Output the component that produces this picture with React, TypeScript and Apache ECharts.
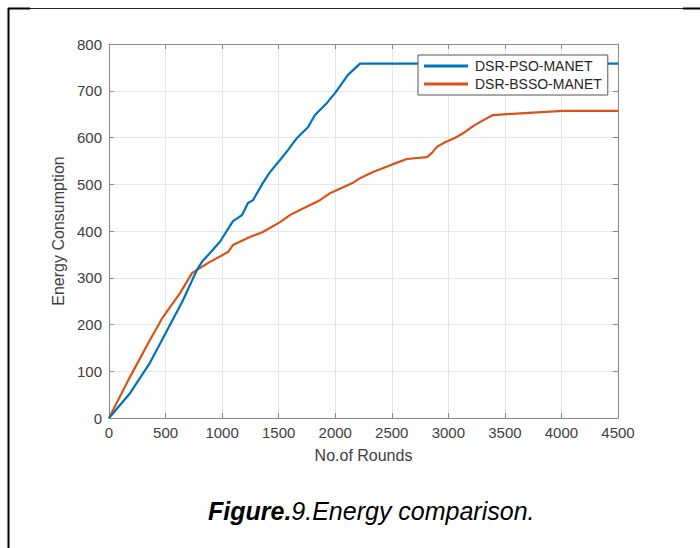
import React, { useEffect, useRef } from "react";
import * as echarts from "echarts";

const seriesNames = ["DSR-PSO-MANET", "DSR-BSSO-MANET"];

const psoRounds = [0, 186, 362, 539, 654, 778, 822, 893, 981, 1096, 1176, 1229, 1273, 1361, 1423, 1512, 1582, 1662, 1759, 1821, 1927, 1998, 2113, 2219, 4500];
const psoEnergy = [0, 53, 118, 199, 252, 317, 334, 353, 377, 421, 434, 460, 466, 503, 526, 552, 573, 599, 622, 648, 674, 695, 734, 758, 758];

const bssoRounds = [0, 186, 362, 477, 628, 734, 778, 893, 1052, 1096, 1246, 1361, 1512, 1600, 1688, 1865, 1954, 2157, 2219, 2334, 2511, 2634, 2811, 2855, 2899, 2970, 3058, 3129, 3235, 3394, 3518, 4013, 4500];
const bssoEnergy = [0, 88, 167, 216, 267, 310, 317, 334, 355, 370, 387, 398, 419, 434, 445, 466, 481, 503, 513, 526, 543, 554, 558, 567, 580, 590, 599, 609, 627, 648, 650, 657, 657];

const xTicks = { min: 0, max: 4500, interval: 500 };
const yTicks = { min: 0, max: 800, interval: 100 };

const FONT = "Liberation Sans, Arial, Helvetica, sans-serif";
const AXIS_COLOR = "#8a8a8a";
const LABEL_COLOR = "#404040";

export default function App() {
  const ref = useRef<HTMLDivElement>(null);
  useEffect(() => {
    if (!ref.current) return;
    const chart = echarts.init(ref.current, null, { renderer: "svg" });
    const pair = (xs: number[], ys: number[]) => xs.map((x, i) => [x, ys[i]]);
    const baseAxisLine = { show: true, onZero: false, lineStyle: { color: AXIS_COLOR, width: 1 } };
    const baseTick = { show: true, inside: true, length: 5, lineStyle: { color: AXIS_COLOR } };
    const plain = (v: number) => String(v);
    chart.setOption({
      animation: false,
      backgroundColor: "#ffffff",
      textStyle: { fontFamily: FONT },
      grid: { left: 109, top: 44, right: 82, bottom: 130, containLabel: false },
      legend: {
        orient: "vertical",
        left: 418,
        top: 55,
        padding: [3, 6, 3, 6],
        itemGap: 2,
        itemWidth: 44,
        itemHeight: 3,
        icon: "rect",
        backgroundColor: "#ffffff",
        borderColor: "#555555",
        borderWidth: 1,
        borderRadius: 0,
        textStyle: { fontFamily: FONT, fontSize: 14, color: "#262626", lineHeight: 16, padding: [0, 0, 0, 2] },
        data: seriesNames,
      },
      xAxis: [
        {
          type: "value",
          position: "bottom",
          min: xTicks.min,
          max: xTicks.max,
          interval: xTicks.interval,
          axisLine: baseAxisLine,
          axisTick: baseTick,
          axisLabel: { color: LABEL_COLOR, fontSize: 15, margin: 7, fontFamily: FONT, showMinLabel: true, showMaxLabel: true, formatter: plain },
          splitLine: { show: true, lineStyle: { color: "#e6e6e6", width: 1 } },
          name: "No.of Rounds",
          nameLocation: "middle",
          nameGap: 29,
          nameTextStyle: { color: LABEL_COLOR, fontSize: 16, fontFamily: FONT },
        },
        {
          type: "value",
          position: "top",
          min: xTicks.min,
          max: xTicks.max,
          interval: xTicks.interval,
          axisLine: baseAxisLine,
          axisTick: baseTick,
          axisLabel: { show: false },
          splitLine: { show: false },
        },
      ],
      yAxis: [
        {
          type: "value",
          position: "left",
          min: yTicks.min,
          max: yTicks.max,
          interval: yTicks.interval,
          axisLine: baseAxisLine,
          axisTick: baseTick,
          axisLabel: { color: LABEL_COLOR, fontSize: 15, margin: 7, fontFamily: FONT, showMinLabel: true, showMaxLabel: true, formatter: plain },
          splitLine: { show: true, lineStyle: { color: "#e6e6e6", width: 1 } },
          name: "Energy Consumption",
          nameLocation: "middle",
          nameGap: 42,
          nameRotate: 90,
          nameTextStyle: { color: LABEL_COLOR, fontSize: 16, fontFamily: FONT },
        },
        {
          type: "value",
          position: "right",
          min: yTicks.min,
          max: yTicks.max,
          interval: yTicks.interval,
          axisLine: baseAxisLine,
          axisTick: baseTick,
          axisLabel: { show: false },
          splitLine: { show: false },
        },
      ],
      series: [
        {
          name: seriesNames[0],
          type: "line",
          xAxisIndex: 0,
          yAxisIndex: 0,
          showSymbol: false,
          symbol: "none",
          color: "#0072BD",
          lineStyle: { color: "#0072BD", width: 2.2 },
          data: pair(psoRounds, psoEnergy),
          z: 3,
        },
        {
          name: seriesNames[1],
          type: "line",
          xAxisIndex: 0,
          yAxisIndex: 0,
          showSymbol: false,
          symbol: "none",
          color: "#D95319",
          lineStyle: { color: "#D95319", width: 2.2 },
          data: pair(bssoRounds, bssoEnergy),
          z: 2,
        },
      ],
      graphic: [
        { type: "line", shape: { x1: 8, y1: 8.5, x2: 700, y2: 8.5 }, style: { stroke: "#222", lineWidth: 1 }, silent: true },
        { type: "line", shape: { x1: 8, y1: 8.5, x2: 30, y2: 8.5 }, style: { stroke: "#000", lineWidth: 2 }, silent: true },
        { type: "line", shape: { x1: 683, y1: 8.5, x2: 700, y2: 8.5 }, style: { stroke: "#000", lineWidth: 2 }, silent: true },
        { type: "line", shape: { x1: 8.5, y1: 8, x2: 8.5, y2: 548 }, style: { stroke: "#000", lineWidth: 2 }, silent: true },
        {
          type: "text",
          left: 208,
          top: 498,
          style: {
            text: "{a|Figure.}{b|9.Energy comparison.}",
            rich: {
              a: { fontFamily: FONT, fontSize: 25, fontWeight: "bold", fontStyle: "italic", fill: "#000" },
              b: { fontFamily: FONT, fontSize: 25, fontStyle: "italic", fill: "#000" },
            },
          },
          silent: true,
        },
      ],
    });
    return () => chart.dispose();
  }, []);
  return (
    <div
      ref={ref}
      style={{ position: "fixed", left: 0, top: 0, width: 700, height: 548, background: "#fff" }}
    />
  );
}
